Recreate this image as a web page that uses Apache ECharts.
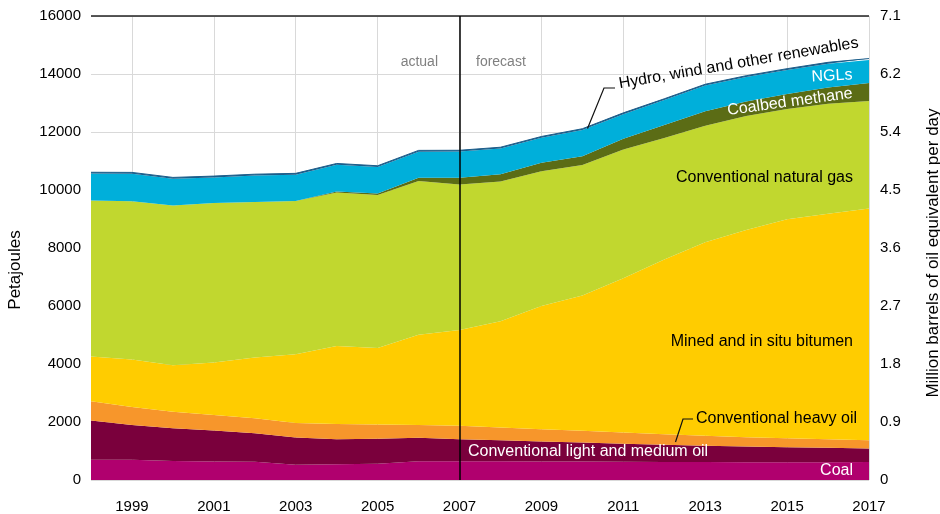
<!DOCTYPE html>
<html>
<head>
<meta charset="utf-8">
<title>Energy production</title>
<script src="https://cdn.jsdelivr.net/npm/echarts@6/dist/echarts.min.js"></script>
<style>
  html, body { margin: 0; padding: 0; background: #fff; }
  #main { width: 940px; height: 514px; }
</style>
</head>
<body>
<div id="main"></div>
<script>
// data (petajoules)
var years = ['1998','1999','2000','2001','2002','2003','2004','2005','2006','2007',
             '2008','2009','2010','2011','2012','2013','2014','2015','2016','2017'];
var coal     = [700, 695, 655, 640, 630, 525, 540, 560, 650, 650, 645, 640, 635, 630, 625, 620, 615, 612, 612, 620];
var lightOil = [1349, 1204, 1130, 1065, 984, 940, 868, 859, 803, 758, 728, 687, 658, 617, 588, 558, 541, 521, 498, 467];
var heavyOil = [663, 619, 572, 538, 514, 503, 526, 492, 446, 462, 435, 424, 401, 390, 366, 344, 320, 309, 298, 286];
var bitumen  = [1545, 1636, 1603, 1808, 2095, 2369, 2689, 2644, 3113, 3300, 3662, 4249, 4666, 5323, 6021, 6678, 7144, 7548, 7772, 7987];
var natGas   = [5379, 5458, 5504, 5504, 5367, 5287, 5287, 5276, 5299, 5020, 4820, 4650, 4498, 4435, 4190, 4012, 3936, 3799, 3797, 3707];
var cbm      = [0, 0, 0, 0, 0, 0, 35, 45, 115, 230, 250, 290, 310, 370, 450, 500, 500, 520, 560, 620];
var ngl      = [930, 950, 925, 880, 910, 905, 925, 915, 895, 905, 890, 860, 900, 850, 860, 890, 840, 830, 820, 800];
var hydro    = [45, 45, 45, 45, 45, 45, 45, 45, 45, 45, 45, 45, 45, 45, 45, 45, 45, 45, 45, 45];

var rightTicks = ['0', '0.9', '1.8', '2.7', '3.6', '4.5', '5.4', '6.2', '7.1'];

var FONT = '"Liberation Sans", Arial, sans-serif';
var myChart = echarts.init(document.getElementById('main'));

function oddYear(i, v) { return (+v) % 2 === 1; }

function area(name, data, color, extra) {
    var s = {
        name: name,
        type: 'line',
        stack: 'total',
        data: data,
        symbol: 'none',
        smooth: false,
        lineStyle: { width: 0 },
        areaStyle: { color: color, opacity: 1 },
        itemStyle: { color: color },
        emphasis: { disabled: true },
        silent: true
    };
    if (extra) for (var k in extra) s[k] = extra[k];
    return s;
}

function label(text, x, y, opts) {
    opts = opts || {};
    return {
        type: 'text',
        x: x, y: y,
        z: 100,
        rotation: (opts.rot || 0) * Math.PI / 180,
        silent: true,
        style: {
            text: text,
            fill: opts.color || '#000',
            font: (opts.size || 16) + 'px ' + FONT,
            align: opts.align || 'left',
            verticalAlign: 'middle'
        }
    };
}

var option = {
    animation: false,
    grid: { left: 91, right: 71, top: 16, bottom: 32, containLabel: false },
    xAxis: {
        type: 'category',
        data: years,
        boundaryGap: false,
        axisLine: { show: false },
        axisTick: { show: false },
        axisLabel: {
            interval: oddYear,
            margin: 19,
            color: '#000',
            fontSize: 15,
            fontFamily: FONT
        },
        splitLine: {
            show: true,
            interval: oddYear,
            lineStyle: { color: '#d9d9d9', width: 1 }
        }
    },
    yAxis: [{
        type: 'value',
        min: 0, max: 16000, interval: 2000,
        axisLine: { show: false },
        axisTick: { show: false },
        axisLabel: {
            margin: 10, color: '#000', fontSize: 15, fontFamily: FONT,
            formatter: function (v) { return String(v); }
        },
        splitLine: { lineStyle: { color: '#d9d9d9', width: 1 } }
    }, {
        type: 'value',
        position: 'right',
        min: 0, max: 16000, interval: 2000,
        axisLine: { show: false },
        axisTick: { show: false },
        splitLine: { show: false },
        axisLabel: {
            margin: 11, color: '#000', fontSize: 15, fontFamily: FONT,
            formatter: function (v) { return rightTicks[Math.round(v / 2000)]; }
        }
    }],
    series: [
        area('Coal', coal, '#b0006e', {
            markLine: {
                silent: true,
                symbol: 'none',
                label: { show: false },
                data: [
                    { yAxis: 16000, lineStyle: { color: '#222', width: 1.5, type: 'solid' } },
                    { xAxis: '2007', lineStyle: { color: '#000', width: 1.5, type: 'solid' } }
                ]
            }
        }),
        area('Conventional light and medium oil', lightOil, '#7a003c'),
        area('Conventional heavy oil', heavyOil, '#f7962b'),
        area('Mined and in situ bitumen', bitumen, '#ffcc00'),
        area('Conventional natural gas', natGas, '#c1d72f'),
        area('Coalbed methane', cbm, '#5b6c15'),
        area('NGLs', ngl, '#00afda'),
        area('Hydro, wind and other renewables', hydro, '#1b5d8a', {
            lineStyle: { width: 1, color: '#1b5d8a' }
        })
    ],
    graphic: [
        // axis titles
        label('Petajoules', 15, 270, { rot: 90, align: 'center', size: 17 }),
        label('Million barrels of oil equivalent per day', 933, 253, { rot: 90, align: 'center', size: 17 }),
        // actual / forecast
        label('actual', 438, 62, { color: '#808080', size: 14, align: 'right' }),
        label('forecast', 476, 62, { color: '#808080', size: 14 }),
        // series labels
        label('Hydro, wind and other renewables', 619, 84, { rot: 9.8 }),
        label('NGLs', 832, 76, { color: '#fff', rot: 3, align: 'center' }),
        label('Coalbed methane', 790, 102, { color: '#fff', rot: 7.9, align: 'center' }),
        label('Conventional natural gas', 853, 178, { align: 'right' }),
        label('Mined and in situ bitumen', 853, 342, { align: 'right' }),
        label('Conventional heavy oil', 696, 419),
        label('Conventional light and medium oil', 468, 452, { color: '#fff' }),
        label('Coal', 853, 471, { color: '#fff', align: 'right' }),
        // leader lines
        {
            type: 'polyline', silent: true, z: 100,
            shape: { points: [[587.5, 128.5], [604, 88], [615, 88]] },
            style: { stroke: '#111', lineWidth: 1.2, fill: null }
        },
        {
            type: 'polyline', silent: true, z: 100,
            shape: { points: [[675.5, 442], [683, 419], [693, 419]] },
            style: { stroke: '#111', lineWidth: 1.2, fill: null }
        }
    ]
};

myChart.setOption(option);
</script>
</body>
</html>
